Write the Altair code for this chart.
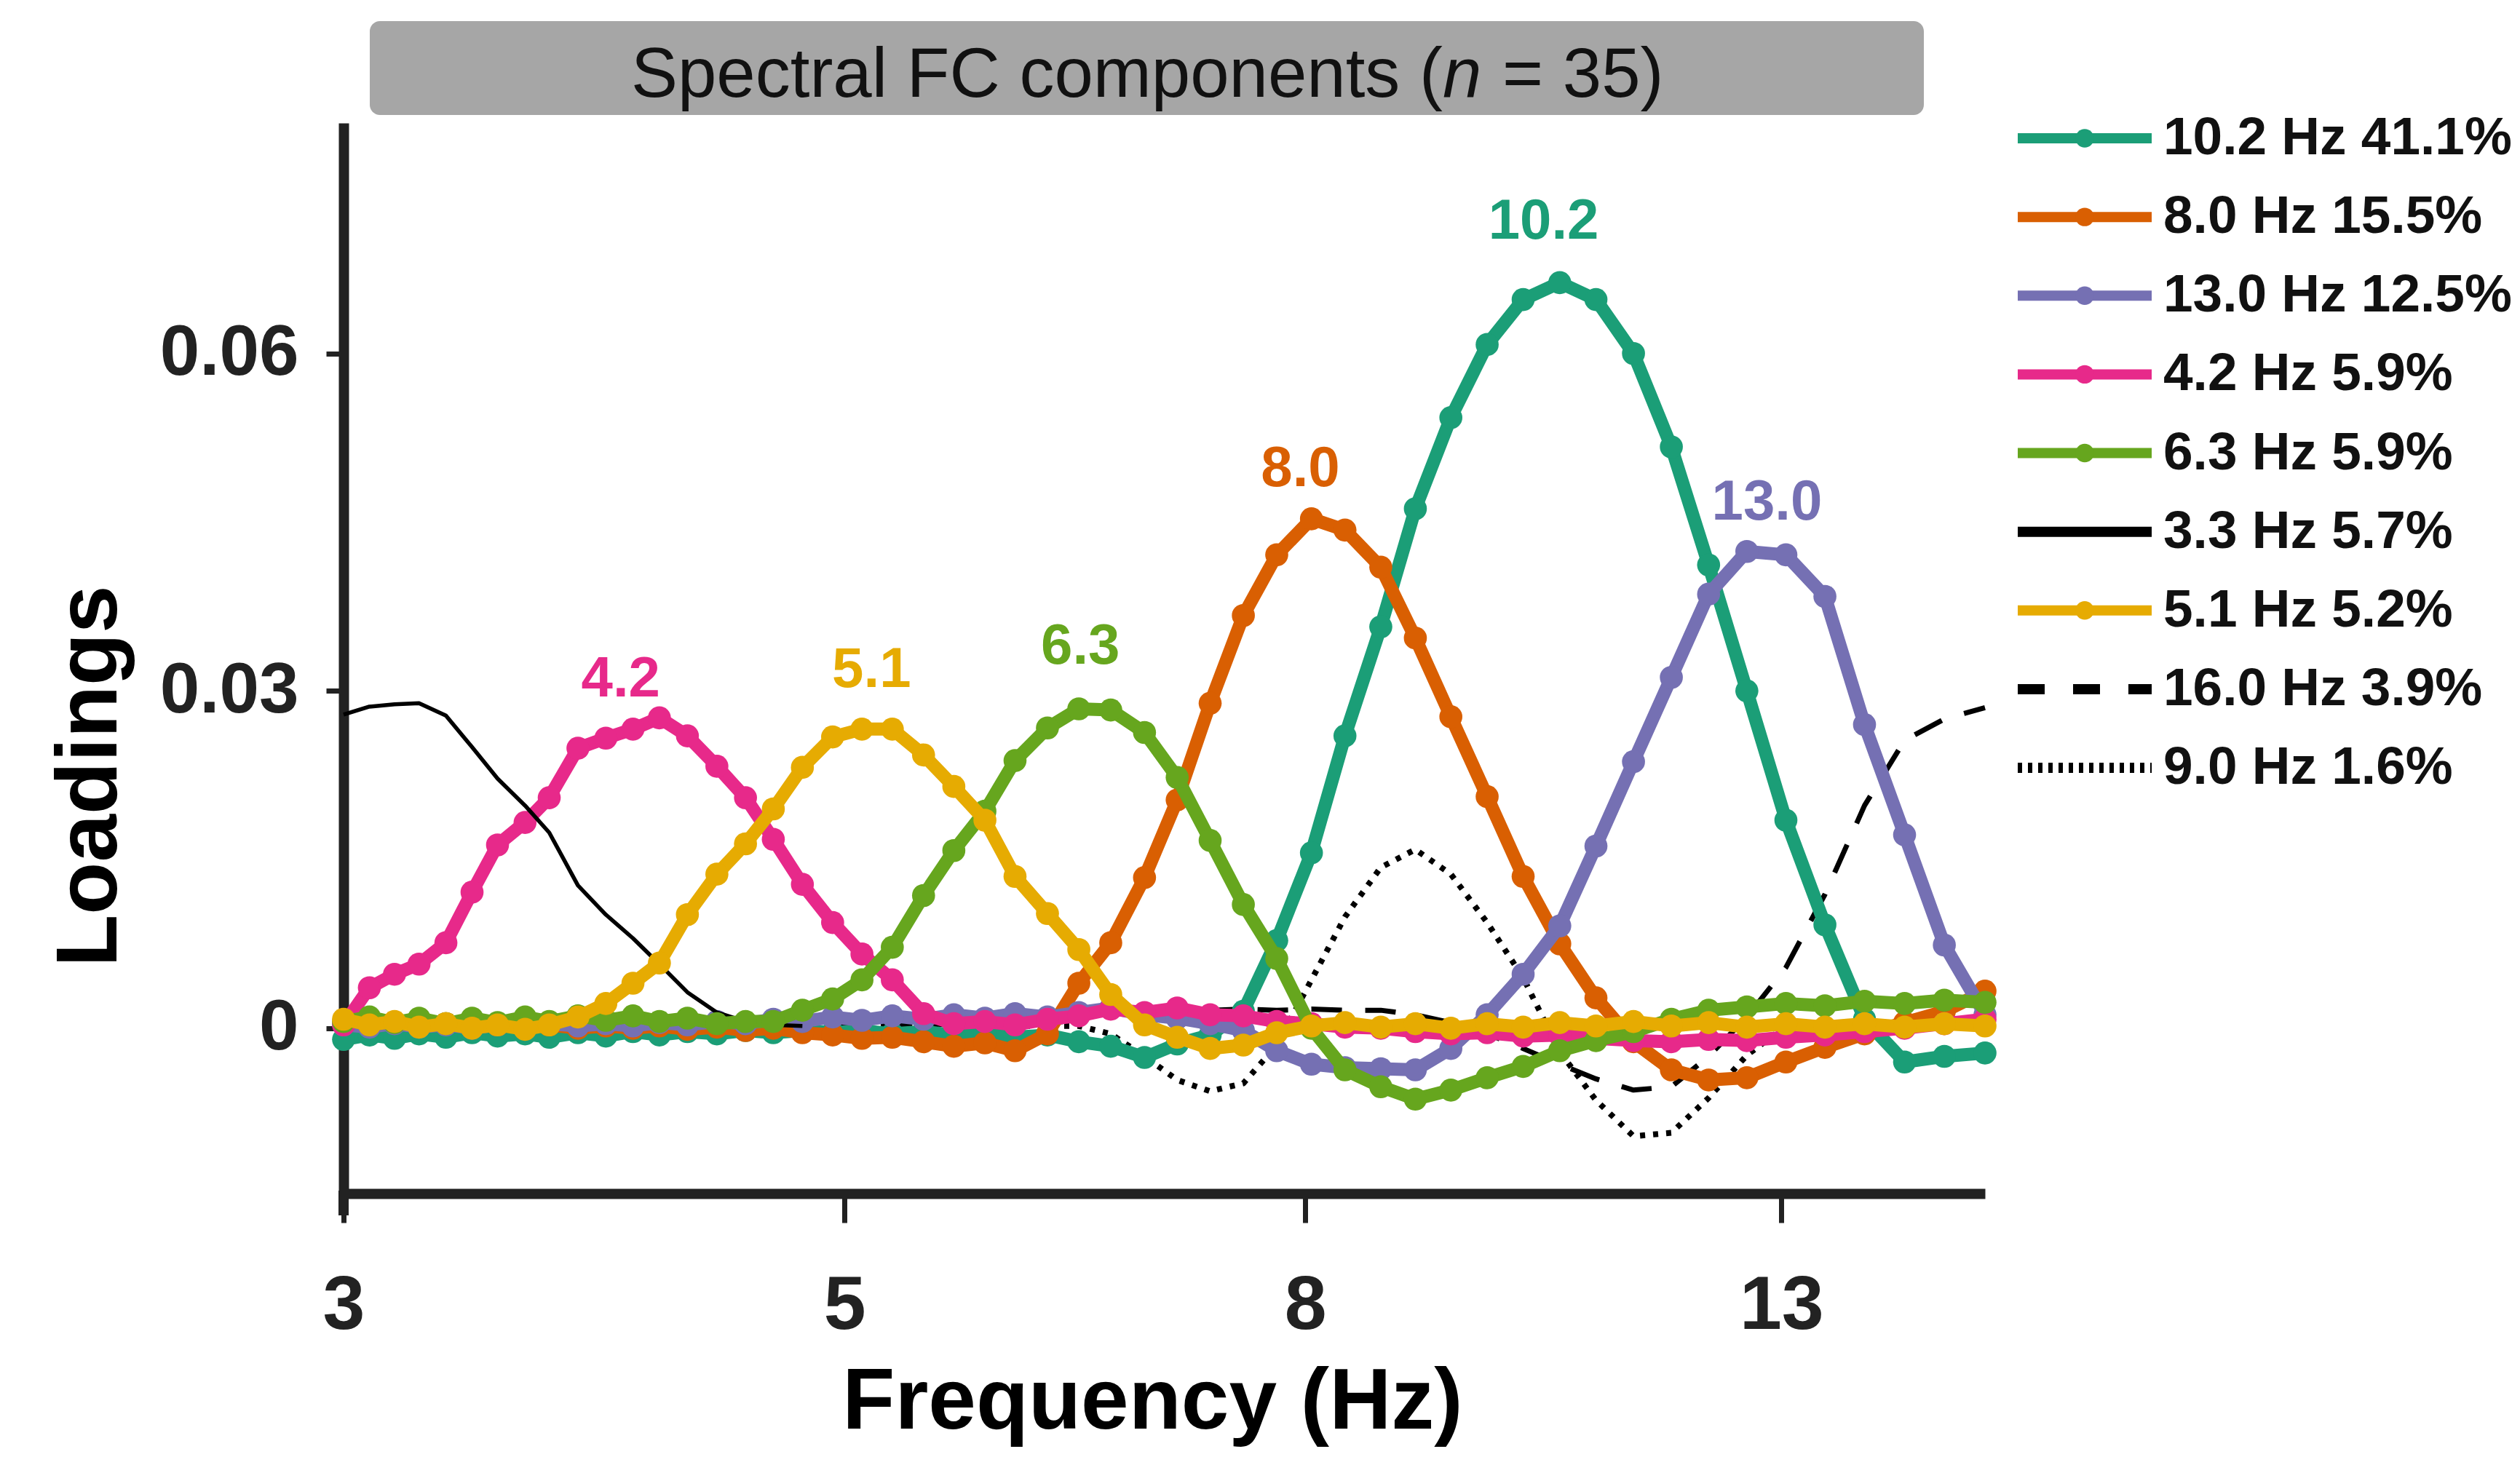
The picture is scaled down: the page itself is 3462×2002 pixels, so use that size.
import altair as alt
import pandas as pd

FONT = "Liberation Sans"

# ---------------- data ----------------
freq = [3.00, 3.08, 3.16, 3.24, 3.33, 3.42, 3.51, 3.61, 3.70, 3.81,
        3.92, 4.03, 4.14, 4.26, 4.39, 4.52, 4.65, 4.79, 4.94, 5.09,
        5.25, 5.42, 5.59, 5.77, 5.95, 6.15, 6.35, 6.56, 6.79, 7.02,
        7.26, 7.51, 7.77, 8.05, 8.33, 8.64, 8.95, 9.28, 9.63, 9.99,
        10.37, 10.76, 11.18, 11.62, 12.07, 12.55, 13.06, 13.59, 14.15, 14.74,
        15.35, 16.00]

hz10_2 = [-0.0010, -0.0006, -0.0009, -0.0005, -0.0008, -0.0004, -0.0007, -0.0005, -0.0008, -0.0004,
          -0.0007, -0.0003, -0.0006, -0.0003, -0.0005, -0.0002, -0.0004, -0.0002, -0.0004, -0.0002,
          -0.0005, -0.0003, -0.0006, -0.0004, -0.0008, -0.0006, -0.0012, -0.0016, -0.0026, -0.0014,
          -0.0006, 0.0015, 0.0078, 0.0156, 0.0260, 0.0357, 0.0462, 0.0543, 0.0608, 0.0648,
          0.0663, 0.0648, 0.0600, 0.0517, 0.0412, 0.0300, 0.0185, 0.0092, 0.0008, -0.0030,
          -0.0025, -0.0022]

hz8_0 = [0.0004, 0.0002, 0.0005, 0.0002, 0.0004, 0.0001, 0.0003, 0.0001, 0.0003, 0.0000,
         0.0002, 0.0000, 0.0002, -0.0001, 0.0001, -0.0002, 0.0000, -0.0004, -0.0006, -0.0009,
         -0.0008, -0.0012, -0.0016, -0.0013, -0.0020, -0.0005, 0.0040, 0.0076, 0.0134, 0.0203,
         0.0289, 0.0367, 0.0421, 0.0453, 0.0443, 0.0410, 0.0347, 0.0277, 0.0206, 0.0135,
         0.0075, 0.0027, -0.0012, -0.0037, -0.0046, -0.0044, -0.0030, -0.0017, -0.0005, 0.0005,
         0.0015, 0.0033]

hz13_0 = [0.0003, 0.0001, 0.0004, 0.0001, 0.0003, 0.0000, 0.0003, 0.0001, 0.0004, 0.0002,
          0.0004, 0.0002, 0.0005, 0.0003, 0.0006, 0.0004, 0.0008, 0.0006, 0.0010, 0.0007,
          0.0011, 0.0008, 0.0012, 0.0009, 0.0013, 0.0010, 0.0014, 0.0018, 0.0012, 0.0009,
          0.0004, -0.0002, -0.0020, -0.0032, -0.0035, -0.0036, -0.0037, -0.0018, 0.0012, 0.0048,
          0.0091, 0.0162, 0.0237, 0.0312, 0.0386, 0.0424, 0.0421, 0.0384, 0.0270, 0.0172,
          0.0074, 0.0012]

hz4_2 = [0.0003, 0.0036, 0.0048, 0.0057, 0.0076, 0.0121, 0.0163, 0.0183, 0.0205, 0.0249,
         0.0258, 0.0266, 0.0276, 0.0260, 0.0233, 0.0205, 0.0168, 0.0128, 0.0094, 0.0066,
         0.0043, 0.0013, 0.0004, 0.0006, 0.0003, 0.0008, 0.0011, 0.0017, 0.0014, 0.0018,
         0.0012, 0.0011, 0.0006, 0.0004, 0.0001, 0.0000, -0.0003, -0.0005, -0.0004, -0.0007,
         -0.0006, -0.0009, -0.0011, -0.0012, -0.0010, -0.0011, -0.0008, -0.0006, -0.0003, 0.0000,
         0.0004, 0.0008]

hz6_3 = [0.0006, 0.0010, 0.0005, 0.0009, 0.0004, 0.0009, 0.0005, 0.0010, 0.0006, 0.0011,
         0.0007, 0.0011, 0.0006, 0.0009, 0.0004, 0.0006, 0.0006, 0.0016, 0.0026, 0.0043,
         0.0072, 0.0118, 0.0158, 0.0193, 0.0238, 0.0267, 0.0284, 0.0283, 0.0263, 0.0223,
         0.0167, 0.0110, 0.0062, 0.0000, -0.0037, -0.0052, -0.0063, -0.0055, -0.0044, -0.0034,
         -0.0020, -0.0011, -0.0003, 0.0008, 0.0016, 0.0019, 0.0022, 0.0020, 0.0024, 0.0022,
         0.0025, 0.0023]

# black solid line: visible only until it merges into the cluster at zero
hz3_3 = [0.0279, 0.0286, 0.0288, 0.0289, 0.0278, 0.0250, 0.0222, 0.0198, 0.0174, 0.0127,
         0.0101, 0.0080, 0.0057, 0.0032, 0.0014, 0.0006, 0.0003, 0.0002]

hz5_1 = [0.0008, 0.0003, 0.0006, 0.0001, 0.0004, 0.0000, 0.0003, -0.0001, 0.0003, 0.0010,
         0.0022, 0.0040, 0.0058, 0.0101, 0.0137, 0.0164, 0.0195, 0.0232, 0.0259, 0.0266,
         0.0266, 0.0243, 0.0215, 0.0185, 0.0135, 0.0102, 0.0070, 0.0030, 0.0003, -0.0008,
         -0.0018, -0.0015, -0.0004, 0.0002, 0.0005, 0.0001, 0.0004, 0.0000, 0.0004, 0.0001,
         0.0005, 0.0002, 0.0006, 0.0002, 0.0005, 0.0001, 0.0004, 0.0001, 0.0004, 0.0001,
         0.0004, 0.0002]

hz16_0 = [0.0003, 0.0004, 0.0003, 0.0004, 0.0003, 0.0004, 0.0003, 0.0004, 0.0003, 0.0004,
          0.0003, 0.0004, 0.0003, 0.0004, 0.0003, 0.0004, 0.0003, 0.0004, 0.0003, 0.0004,
          0.0003, 0.0004, 0.0003, 0.0004, 0.0003, 0.0004, 0.0008, 0.0014, 0.0016, 0.0017,
          0.0016, 0.0017, 0.0016, 0.0017, 0.0016, 0.0016, 0.0012, 0.0005, -0.0005, -0.0018,
          -0.0032, -0.0045, -0.0055, -0.0052, -0.0025, 0.0010, 0.0054, 0.0119, 0.0198, 0.0256,
          0.0275, 0.0285]

hz9_0 = [0.0002, 0.0002, 0.0002, 0.0002, 0.0002, 0.0002, 0.0002, 0.0002, 0.0002, 0.0002,
         0.0002, 0.0002, 0.0002, 0.0002, 0.0002, 0.0002, 0.0002, 0.0002, 0.0002, 0.0002,
         0.0002, 0.0002, 0.0002, 0.0002, 0.0002, 0.0002, 0.0002, -0.0005, -0.0025, -0.0046,
         -0.0056, -0.0049, -0.0015, 0.0043, 0.0099, 0.0143, 0.0159, 0.0137, 0.0094, 0.0045,
         -0.0021, -0.0064, -0.0096, -0.0093, -0.0062, -0.0024, 0.0002, 0.0002, 0.0002, 0.0002,
         0.0002, 0.0002]

series_names = ["10.2 Hz 41.1%", "8.0 Hz 15.5%", "13.0 Hz 12.5%", "4.2 Hz 5.9%",
                "6.3 Hz 5.9%", "3.3 Hz 5.7%", "5.1 Hz 5.2%", "16.0 Hz 3.9%", "9.0 Hz 1.6%"]
series_values = [hz10_2, hz8_0, hz13_0, hz4_2, hz6_3, hz3_3, hz5_1, hz16_0, hz9_0]

peak_labels = ["4.2", "5.1", "6.3", "8.0", "10.2", "13.0"]
peak_label_freq = [3.98, 5.14, 6.36, 7.96, 10.20, 12.81]
peak_label_value = [0.0310, 0.0318, 0.0339, 0.0497, 0.0717, 0.0467]

x_ticks = [3, 5, 8, 13]
y_ticks = [0, 0.03, 0.06]
title_parts = ["Spectral FC components (", "n", "= 35)"]

# ---------------- styles ----------------
colors = ["#1b9e77", "#d95f02", "#7570b3", "#e7298a", "#66a61e",
          "#000000", "#e6ab02", "#000000", "#000000"]
line_widths = [18, 18, 18, 18, 18, 5.5, 18, 7, 8]
line_dashes = [None, None, None, None, None, None, None, [42, 32], [7, 11]]
has_markers = [True, True, True, True, True, False, True, False, False]
legend_widths = [14, 14, 14, 14, 14, 5, 14, 7, 7]
legend_dashes = [[1, 0], [1, 0], [1, 0], [1, 0], [1, 0], [1, 0], [1, 0], [37, 39], [6, 8]]
peak_colors = ["#e7298a", "#e6ab02", "#66a61e", "#d95f02", "#1b9e77", "#7570b3"]
draw_order = [8, 7, 0, 1, 2, 3, 5, 4, 6]
MARKER_SIZE = 1000

W, H = 2255, 1471

rows = []
for name, vals in zip(series_names, series_values):
    for f, v in zip(freq, vals):
        rows.append({"series": name, "freq": f, "value": v})
df = pd.DataFrame(rows)

x_scale = alt.Scale(type="log", domain=[3, 16], nice=False)
y_scale = alt.Scale(domain=[-0.0147, 0.0805], nice=False, zero=False)

x_axis = alt.Axis(values=x_ticks, labelExpr="format(datum.value, 'd')", title="Frequency (Hz)",
                  titleFont=FONT, titleFontSize=118, titleFontWeight="bold", titleColor="#000",
                  titleX=1111, titleY=322, titleBaseline="alphabetic", titleAlign="center",
                  titleLimit=0,
                  labelFont=FONT, labelFontSize=104, labelFontWeight="bold", labelColor="#222",
                  labelFlush=False, labelOverlap=False, labelPadding=63, labelLimit=0,
                  domainColor="#222", domainWidth=14, tickColor="#222", tickWidth=7, tickSize=40,
                  grid=False)
y_axis = alt.Axis(values=y_ticks,
                  labelExpr="datum.value == 0 ? '0' : format(datum.value, '.2f')",
                  title="Loadings", titleFont=FONT, titleFontSize=118, titleFontWeight="bold",
                  titleColor="#000", titleAngle=270, titleX=-313, titleY=897,
                  titleBaseline="alphabetic", titleAlign="center", titleLimit=0,
                  labelFont=FONT, labelFontSize=98, labelFontWeight="bold", labelColor="#222",
                  labelPadding=38, labelLimit=0, domainColor="#222", domainWidth=14,
                  tickColor="#222", tickWidth=7, tickSize=24, grid=False)

X = alt.X("freq:Q", scale=x_scale, axis=x_axis)
Y = alt.Y("value:Q", scale=y_scale, axis=y_axis)

main_layers = []

# header box and title
one = pd.DataFrame({"k": [0]})
main_layers.append(
    alt.Chart(one).mark_rect(color="#a6a6a6", cornerRadius=14).encode(
        x=alt.value(36), x2=alt.value(2171), y=alt.value(-140), y2=alt.value(-11))
)
title_df = pd.DataFrame({"t": title_parts, "part": [0, 1, 2]})
main_layers.append(
    alt.Chart(title_df).transform_filter("datum.part == 0").mark_text(
        align="right", baseline="alphabetic", font=FONT, fontSize=96, color="#111").encode(
        x=alt.value(1510), y=alt.value(-36), text="t:N")
)
main_layers.append(
    alt.Chart(title_df).transform_filter("datum.part == 1").mark_text(
        align="left", baseline="alphabetic", font=FONT, fontSize=96, fontStyle="italic",
        color="#111").encode(x=alt.value(1510), y=alt.value(-36), text="t:N")
)
main_layers.append(
    alt.Chart(title_df).transform_filter("datum.part == 2").mark_text(
        align="left", baseline="alphabetic", font=FONT, fontSize=96, color="#111").encode(
        x=alt.value(1592), y=alt.value(-36), text="t:N")
)

# y axis line continuing slightly below the x axis
main_layers.append(
    alt.Chart(one).mark_rule(color="#222", strokeWidth=14).encode(
        x=alt.value(0), y=alt.value(H - 4), y2=alt.value(H + 30))
)

for idx in draw_order:
    sub = df[df["series"] == series_names[idx]]
    base = alt.Chart(sub)
    kw = dict(color=colors[idx], strokeWidth=line_widths[idx], strokeJoin="round")
    if line_dashes[idx] is not None:
        kw["strokeDash"] = line_dashes[idx]
    main_layers.append(base.mark_line(**kw).encode(x=X, y=Y))
    if has_markers[idx]:
        main_layers.append(base.mark_circle(color=colors[idx], size=MARKER_SIZE, opacity=1).encode(x=X, y=Y))

peaks_df = pd.DataFrame({"label": peak_labels, "freq": peak_label_freq, "value": peak_label_value})
main_layers.append(
    alt.Chart(peaks_df).mark_text(font=FONT, fontSize=78, fontWeight="bold",
                                  align="center", baseline="middle").encode(
        x=X, y=Y, text="label:N",
        color=alt.Color("label:N", scale=alt.Scale(domain=peak_labels, range=peak_colors), legend=None))
)

main = alt.layer(*main_layers)

# ---------------- legend ----------------
legend_df = pd.DataFrame({"name": series_names, "marker": has_markers})
LY = alt.Y("name:N", sort=series_names,
           scale=alt.Scale(type="point", domain=series_names, range=[21, 886], padding=0), axis=None)
lcolor = alt.Color("name:N", scale=alt.Scale(domain=series_names, range=colors), legend=None)
legend_rule = alt.Chart(legend_df).mark_rule(strokeCap="butt").encode(
    x=alt.value(2300), x2=alt.value(2484), y=LY, color=lcolor,
    strokeDash=alt.StrokeDash("name:N", scale=alt.Scale(domain=series_names, range=legend_dashes), legend=None),
    strokeWidth=alt.StrokeWidth("name:N", scale=alt.Scale(domain=series_names, range=legend_widths), legend=None),
)
legend_pts = alt.Chart(legend_df).transform_filter("datum.marker").mark_circle(size=650, opacity=1).encode(
    x=alt.value(2392), y=LY, color=lcolor)
legend_txt = alt.Chart(legend_df).mark_text(align="left", baseline="middle", font=FONT, fontSize=73,
                                            fontWeight="bold", color="#111").encode(
    x=alt.value(2500), y=LY, text="name:N")
legend = alt.layer(legend_rule, legend_pts, legend_txt)

chart = alt.layer(main, legend).resolve_scale(
    y="independent", color="independent", strokeDash="independent", strokeWidth="independent"
).properties(
    width=W, height=H,
    autosize=alt.AutoSizeParams(type="none"),
    padding={"left": 464, "top": 161, "right": 727, "bottom": 350},
).configure_view(strokeWidth=0)

chart.save("out.html", embed_options={"renderer": "svg", "actions": False})
